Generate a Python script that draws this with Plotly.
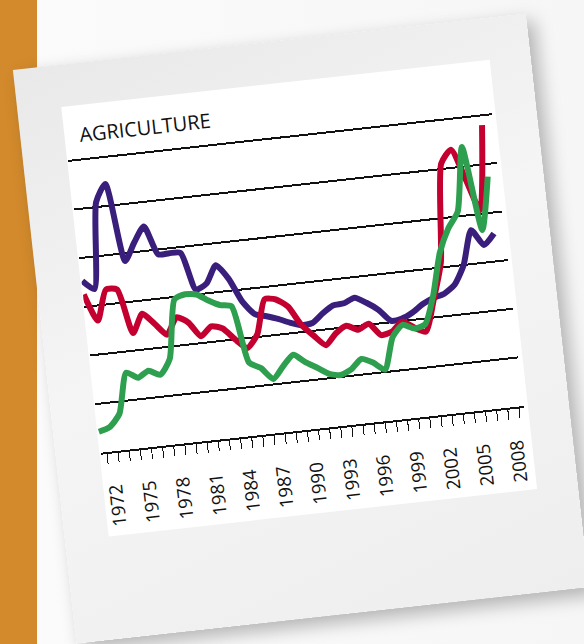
import plotly.graph_objects as go

# ---- data (arbitrary index units, gridline = 1) ----
years = list(range(1971, 2009))

purple_vals = [3.53, 3.34, 5.10, 5.45, 3.84, 4.20, 4.50, 3.90, 3.90, 3.88,
               3.10, 3.20, 3.55, 3.25, 2.75, 2.47, 2.40, 2.32, 2.22, 2.14,
               2.16, 2.33, 2.47, 2.49, 2.58, 2.45, 2.28, 2.03, 2.05, 2.15,
               2.30, 2.40, 2.46, 2.62, 3.00, 3.69, 3.36, 3.57]

red_vals = [3.25, 2.69, 3.30, 3.28, 2.36, 2.73, 2.50, 2.25, 2.58, 2.45,
            2.14, 2.32, 2.25, 2.00, 1.80, 2.05, 2.75, 2.72, 2.55, 2.15,
            1.90, 1.68, 1.90, 2.03, 1.92, 2.02, 1.76, 1.81, 1.99, 1.84,
            1.73, 2.36, 3.10, 5.11, 5.37, 4.75, 4.08, 5.80]

green_vals = [0.43, 0.50, 0.75, 1.57, 1.44, 1.56, 1.45, 1.75, 2.95, 3.03,
              3.00, 2.85, 2.73, 2.68, 1.50, 1.36, 1.11, 1.35, 1.56, 1.38,
              1.24, 1.09, 1.04, 1.13, 1.32, 1.22, 1.05, 1.70, 1.92, 1.82,
              1.88, 2.45, 3.30, 3.78, 4.10, 5.40, 3.67, 4.74]

tick_years = [1972, 1975, 1978, 1981, 1984, 1987, 1990, 1993, 1996, 1999, 2002, 2005, 2008]
title_text = "AGRICULTURE"

PURPLE = "#3a1e7b"
RED = "#c3002f"
GREEN = "#2e9e4f"

fig = go.Figure()
for vals, col in [(purple_vals, PURPLE), (red_vals, RED), (green_vals, GREEN)]:
    fig.add_trace(go.Scatter(
        x=years, y=vals, mode="lines",
        line=dict(color=col, width=6, shape="spline", smoothing=0.6),
        hoverinfo="skip", showlegend=False, cliponaxis=False,
    ))

# white inner panel on the grey card
fig.add_shape(type="rect", xref="paper", yref="paper",
              x0=-0.0023, x1=1.0094, y0=-0.245, y1=1.0146,
              fillcolor="white", line=dict(width=0), layer="below")

fig.add_annotation(text=title_text, xref="paper", yref="paper",
                   x=0.028, y=0.930, xanchor="left", yanchor="middle",
                   showarrow=False,
                   font=dict(family="Open Sans", size=20, color="#111111", weight=500))

fig.update_layout(
    width=516, height=577,
    margin=dict(l=45, r=45, t=47, b=187),
    paper_bgcolor="rgba(0,0,0,0)",
    plot_bgcolor="rgba(0,0,0,0)",
    font=dict(family="Open Sans", color="#111111"),
    xaxis=dict(
        range=[1970.93, 2008.96],
        tickmode="array", tickvals=tick_years, ticktext=[str(y) for y in tick_years],
        tickangle=-90, tickfont=dict(size=18.5, color="#111111", weight=500),
        ticks="outside", ticklen=10, tickcolor="rgba(0,0,0,0)",
        ticklabelstandoff=14,
        showgrid=False, zeroline=False,
        showline=True, linecolor="#111111", linewidth=1.5,
        minor=dict(ticks="outside", ticklen=10, tickwidth=1, tickcolor="#111111",
                   tick0=1971.5, dtick=1, showgrid=False),
    ),
    yaxis=dict(
        range=[0, 7.01], dtick=1, tick0=0,
        showticklabels=False, ticks="",
        showgrid=True, gridcolor="#111111", gridwidth=1.6,
        zeroline=False, showline=False,
    ),
)

post = """
var gd = document.getElementById('{plot_id}');
var b = document.body;
document.documentElement.style.margin='0';
document.documentElement.style.overflow='hidden';
b.style.margin='0';
b.style.width='584px';
b.style.height='644px';
b.style.overflow='hidden';
b.style.background='linear-gradient(to right,#d38a2c 0px,#d38a2c 37px,#fbfbfb 37px,#f6f6f6 100%)';
gd.style.position='absolute';
gd.style.left='42.5px';
gd.style.top='40px';
gd.style.transform='rotate(-6.3deg)';
gd.style.background='linear-gradient(160deg,#e9e9e9 0%,#f5f5f5 45%,#eeeeee 100%)';
gd.style.boxShadow='7px 8px 18px rgba(0,0,0,0.28)';
"""

fig.write_html("out.html", config={"displayModeBar": False}, post_script=post)
